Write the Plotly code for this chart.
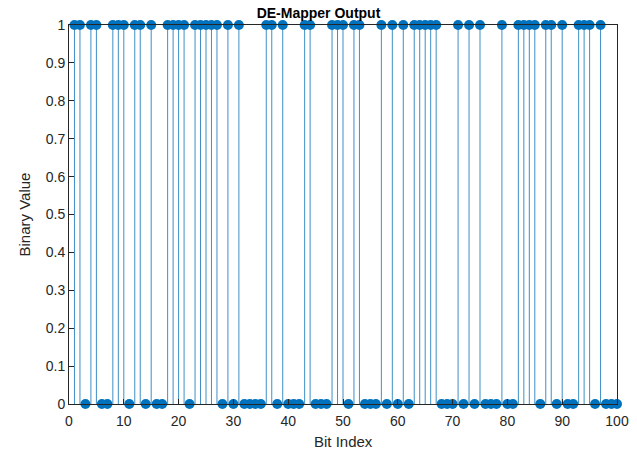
import plotly.graph_objects as go

# Demapped bit stream (index 1..100)
bit_index = list(range(1, 101))
ones_at = [1, 2, 4, 5, 8, 9, 10, 12, 13, 15, 18, 19, 20, 21, 23, 24, 25, 26, 27, 29,
           31, 36, 37, 39, 43, 44, 48, 49, 50, 52, 53, 57, 59, 61, 63, 64, 65, 66, 67,
           71, 73, 75, 79, 82, 83, 84, 85, 87, 88, 90, 93, 94, 95, 97]
bits = [1 if i in ones_at else 0 for i in bit_index]

x_ticks = list(range(0, 101, 10))
y_ticks = [k / 10 for k in range(11)]
y_tick_text = ["0"] + [f"{v:.1f}" for v in y_ticks[1:-1]] + ["1"]

stem_color = "#0072BD"
font_family = "Liberation Sans, Arial"
label_font = dict(family=font_family, size=15, color="#262626")

# stem lines from baseline to each value
sx, sy = [], []
for i, b in zip(bit_index, bits):
    sx += [i, i, None]
    sy += [0, b, None]

fig = go.Figure()
fig.add_trace(go.Scatter(x=sx, y=sy, mode="lines",
                         line=dict(color="#3f8fc6", width=1),
                         hoverinfo="skip", cliponaxis=False, showlegend=False))
fig.add_trace(go.Scatter(x=bit_index, y=bits, mode="markers",
                         marker=dict(color=stem_color, size=10, line=dict(width=0)),
                         cliponaxis=False, showlegend=False))

axis_common = dict(showgrid=False, zeroline=False, showline=True, mirror=True,
                   linecolor="#262626", linewidth=1, ticks="inside", ticklen=5,
                   tickcolor="#262626", automargin=False,
                   tickfont=dict(family=font_family, size=14, color="#262626"))

fig.update_layout(
    width=637, height=451,
    margin=dict(l=69, r=20, t=25, b=47),
    paper_bgcolor="white", plot_bgcolor="white",
    title=dict(text="<b>DE-Mapper Output</b>", x=0.5, xanchor="center",
               y=1 - 13 / 451, yanchor="middle",
               font=dict(family=font_family, size=14, color="black")),
    xaxis=dict(range=[0, 100], tickvals=x_ticks, ticklabelstandoff=4, **axis_common),
    yaxis=dict(range=[0, 1], tickvals=y_ticks, ticktext=y_tick_text, **axis_common),
    annotations=[
        dict(text="Bit Index", xref="paper", yref="paper", x=0.5, y=0,
             xanchor="center", yanchor="middle", yshift=-37, showarrow=False,
             font=label_font),
        dict(text="Binary Value", xref="paper", yref="paper", x=0, y=0.5,
             xanchor="center", yanchor="middle", xshift=-45, textangle=-90,
             showarrow=False, font=label_font),
    ],
)

fig.write_html("out.html")
